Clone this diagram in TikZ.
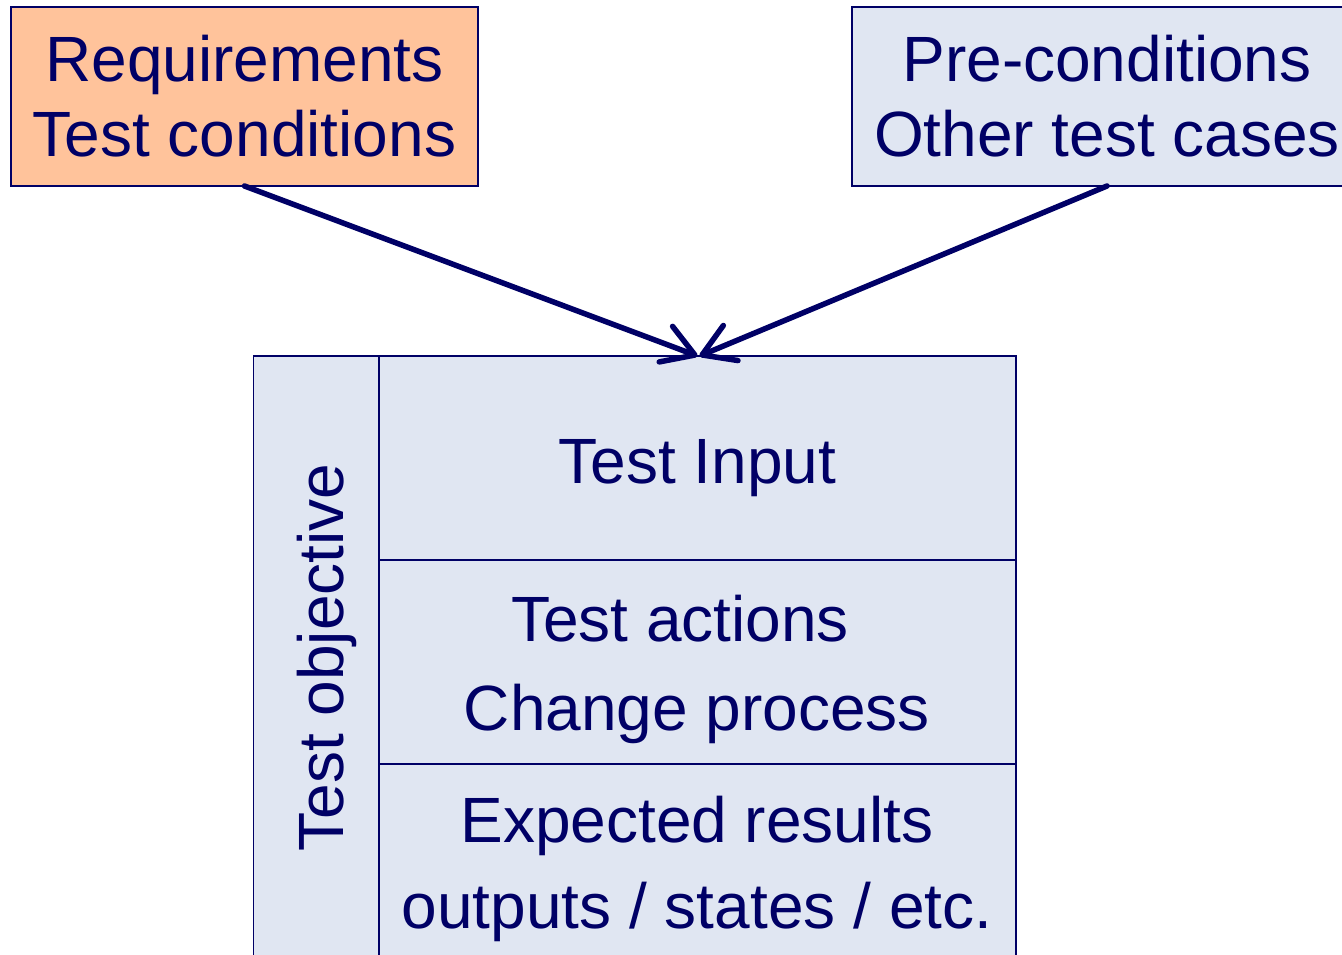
\documentclass[tikz,border=0pt]{standalone}
\usepackage{fontspec}
\setmainfont{Liberation Sans}
\usetikzlibrary{arrows.meta}
\definecolor{navy}{HTML}{000066}
\definecolor{paleblue}{HTML}{E0E6F2}
\definecolor{peach}{HTML}{FFC39B}
\begin{document}
\begin{tikzpicture}[x=1pt,y=-1pt,
  box/.style={draw=navy,line width=1.3pt,inner sep=0pt,outer sep=0pt},
  lbl/.style={text=navy,font=\fontsize{64}{75}\selectfont,inner sep=0pt,anchor=base},
  two/.style={text=navy,font=\fontsize{64}{75}\selectfont,align=center,inner sep=0pt},
  link/.style={draw=navy,line width=5.5pt,line cap=round,
    -{Straight Barb[length=31pt,width=38pt,line cap=round,line join=round]}}]
\useasboundingbox (0,0) rectangle (1342,954);
\clip (0,0) rectangle (1342,954);
% top boxes
\node[box,fill=peach,minimum width=467pt,minimum height=179pt,two] (req) at (244.5,96.5)
  {Requirements\\Test conditions};
\node[box,fill=paleblue,minimum width=510pt,minimum height=179pt,two] (pre) at (1107,96.5)
  {Pre-conditions\\Other test cases};
% test case table
\node[box,fill=paleblue,minimum width=125.5pt,minimum height=640pt] (obj) at (316.25,676) {};
\node[box,fill=paleblue,minimum width=637pt,minimum height=204pt] (inp) at (697.5,458) {};
\node[box,fill=paleblue,minimum width=637pt,minimum height=204pt] (act) at (697.5,662) {};
\node[box,fill=paleblue,minimum width=637pt,minimum height=236pt] (res) at (697.5,882) {};
% texts
\node[lbl,rotate=90] (objt) at (343,657.5) {Test objective};
\node[lbl] (inpt) at (697.5,483) {Test Input};
\node[lbl] (act1) at (680,641) {Test actions};
\node[lbl] (act2) at (697,730) {Change process};
\node[lbl] (res1) at (697,842) {Expected results};
\node[lbl] (res2) at (697,928) {outputs / states / etc.};
% connectors
\draw[link] (req.south) -- (inp.north);
\draw[link] (pre.south) -- ([xshift=2pt]inp.north);
\end{tikzpicture}
\end{document}
